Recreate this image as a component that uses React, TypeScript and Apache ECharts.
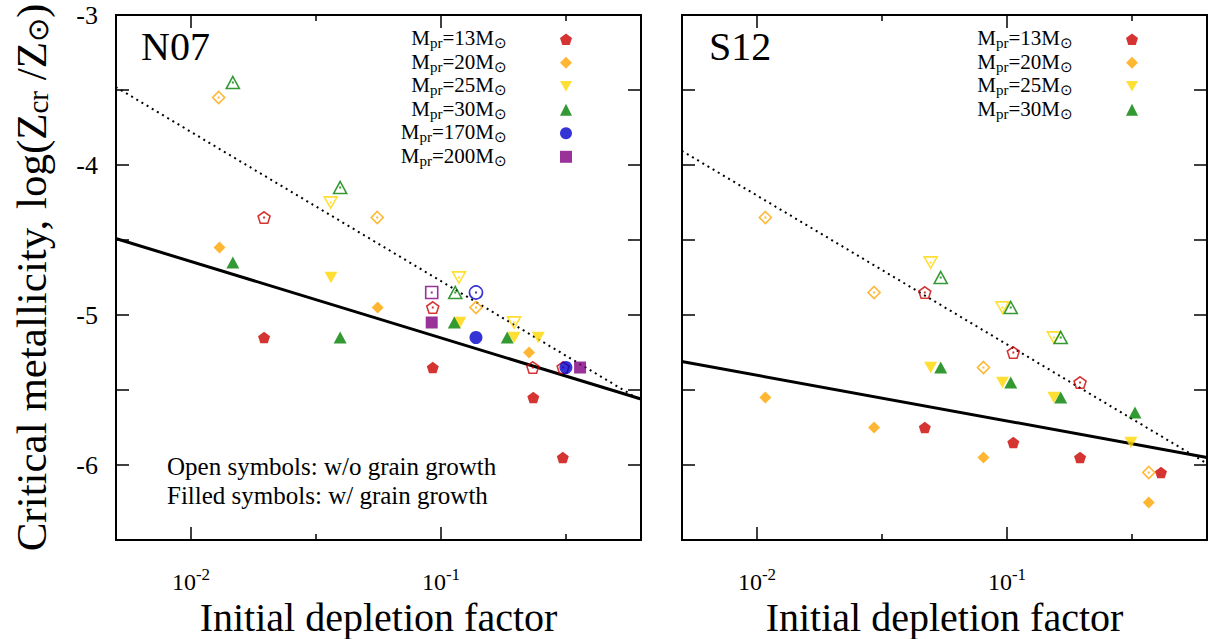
import React, { useEffect, useRef } from 'react';
import * as echarts from 'echarts';

type P = [number, number];

// ---------- data: [initial depletion factor, log(Zcr/Zsun)] ----------
const panelNames = ['N07', 'S12'];
const massesN07 = [13, 20, 25, 30, 170, 200];
const massesS12 = [13, 20, 25, 30];

// N07 — open symbols: without grain growth, filled: with grain growth
const n07_m13_open: P[] = [[0.0196, -4.35], [0.0927, -4.95], [0.233, -5.35], [0.308, -5.35]];
const n07_m13_fill: P[] = [[0.0196, -5.15], [0.0927, -5.35], [0.234, -5.55], [0.307, -5.95]];
const n07_m20_open: P[] = [[0.0129, -3.55], [0.0556, -4.35], [0.138, -4.95]];
const n07_m20_fill: P[] = [[0.013, -4.55], [0.0558, -4.95], [0.225, -5.25]];
const n07_m25_open: P[] = [[0.0362, -4.25], [0.118, -4.75], [0.196, -5.05]];
const n07_m25_fill: P[] = [[0.0363, -4.75], [0.119, -5.05], [0.196, -5.15], [0.245, -5.15]];
const n07_m30_open: P[] = [[0.0147, -3.45], [0.0395, -4.15], [0.114, -4.85]];
const n07_m30_fill: P[] = [[0.0147, -4.65], [0.0395, -5.15], [0.113, -5.05], [0.184, -5.15]];
const n07_m170_open: P[] = [[0.138, -4.85]];
const n07_m170_fill: P[] = [[0.138, -5.15], [0.316, -5.35]];
const n07_m200_open: P[] = [[0.0918, -4.85]];
const n07_m200_fill: P[] = [[0.0918, -5.05], [0.36, -5.35]];

// S12
const s12_m13_open: P[] = [[0.0469, -4.85], [0.106, -5.25], [0.196, -5.45]];
const s12_m13_fill: P[] = [[0.0469, -5.75], [0.106, -5.85], [0.196, -5.95], [0.413, -6.05]];
const s12_m20_open: P[] = [[0.0108, -4.35], [0.0294, -4.85], [0.0805, -5.35], [0.369, -6.05]];
const s12_m20_fill: P[] = [[0.0108, -5.55], [0.0294, -5.75], [0.0805, -5.95], [0.369, -6.25]];
const s12_m25_open: P[] = [[0.0495, -4.65], [0.0959, -4.95], [0.154, -5.15]];
const s12_m25_fill: P[] = [[0.0495, -5.35], [0.0959, -5.45], [0.154, -5.55], [0.313, -5.85]];
const s12_m30_open: P[] = [[0.0543, -4.75], [0.1035, -4.95], [0.164, -5.15]];
const s12_m30_fill: P[] = [[0.0543, -5.35], [0.1035, -5.45], [0.164, -5.55], [0.325, -5.65]];

// fit lines (end points at the panel edges)
const fitX = [0.005, 0.631];
const n07_fitWithGrowth = [-4.49, -5.56];
const n07_fitWithoutGrowth = [-3.48, -5.57];
const s12_fitWithGrowth = [-5.31, -5.95];
const s12_fitWithoutGrowth = [-3.905, -5.99];

// axis ticks (x in decades)
const xMajorExp = [-2, -1];
const xMinorExp = [-1.5, -0.5];
const xMinExp = -2.3;
const xMaxExp = -0.2;
const yMin = -6.5;
const yMax = -3;
const yStep = 0.5;

const annotationLines = ['Open symbols: w/o grain growth', 'Filled symbols: w/ grain growth'];

// ---------- styles ----------
const FONT = "'Liberation Serif', 'Times New Roman', serif";
const PENT = 'path://M0,-100L95.1,-30.9L58.8,80.9L-58.8,80.9L-95.1,-30.9Z';
const DTRI = 'path://M-50,-43.3L50,-43.3L0,43.3Z';
const massStyle: Record<number, { color: string; symbol: string; size: number | number[] }> = {
  13: { color: '#cc0000', symbol: PENT, size: 12 },
  20: { color: '#ffa500', symbol: 'diamond', size: 12 },
  25: { color: '#ffd700', symbol: DTRI, size: 13 },
  30: { color: '#008000', symbol: 'triangle', size: [13, 12] },
  170: { color: '#0000cc', symbol: 'circle', size: 13 },
  200: { color: '#800080', symbol: 'rect', size: 12 },
};

const dataN07: Record<number, [P[], P[]]> = {
  13: [n07_m13_open, n07_m13_fill],
  20: [n07_m20_open, n07_m20_fill],
  25: [n07_m25_open, n07_m25_fill],
  30: [n07_m30_open, n07_m30_fill],
  170: [n07_m170_open, n07_m170_fill],
  200: [n07_m200_open, n07_m200_fill],
};
const dataS12: Record<number, [P[], P[]]> = {
  13: [s12_m13_open, s12_m13_fill],
  20: [s12_m20_open, s12_m20_fill],
  25: [s12_m25_open, s12_m25_fill],
  30: [s12_m30_open, s12_m30_fill],
};

const toLog = (d: P[]) => d.map(([x, y]) => [Math.log10(x), y]);

function buildOption() {
  const gridBase = { top: 15, width: 525, height: 525, show: true, borderColor: '#000', borderWidth: 2, backgroundColor: 'transparent', outerBoundsMode: 'none', containLabel: false };
  const grids = [
    { ...gridBase, left: 116 },
    { ...gridBase, left: 682 },
  ];
  const tickLine = { color: '#000', width: 1.5 };
  const xAxes: any[] = [];
  const yAxes: any[] = [];
  grids.forEach((_, p) => {
    const base = {
      type: 'value', gridIndex: p, min: xMinExp, max: xMaxExp,
      splitLine: { show: false }, axisLine: { show: false, onZero: false },
    };
    xAxes.push({
      ...base, position: 'bottom',
      axisTick: { inside: true, length: 13, customValues: xMajorExp, lineStyle: tickLine },
      axisLabel: {
        customValues: xMajorExp, margin: 26,
        formatter: (v: number) => `{b|10}{s|${Math.round(v)}}`,
        rich: {
          b: { fontFamily: FONT, fontSize: 24, color: '#000', lineHeight: 28, verticalAlign: 'bottom' },
          s: { fontFamily: FONT, fontSize: 17, color: '#000', lineHeight: 14, verticalAlign: 'top' },
        },
      },
      name: 'Initial depletion factor', nameLocation: 'middle', nameGap: 57, nameMoveOverlap: false,
      nameTextStyle: { fontFamily: FONT, fontSize: 40, color: '#000' },
    });
    xAxes.push({ ...base, position: 'bottom', axisTick: { inside: true, length: 6, customValues: xMinorExp, lineStyle: tickLine }, axisLabel: { show: false } });
    xAxes.push({ ...base, position: 'top', axisTick: { inside: true, length: 13, customValues: xMajorExp, lineStyle: tickLine }, axisLabel: { show: false } });
    xAxes.push({ ...base, position: 'top', axisTick: { inside: true, length: 6, customValues: xMinorExp, lineStyle: tickLine }, axisLabel: { show: false } });

    const yBase = {
      type: 'value', gridIndex: p, min: yMin, max: yMax, interval: yStep,
      splitLine: { show: false }, axisLine: { show: false, onZero: false },
      axisTick: { inside: true, length: 13, lineStyle: tickLine },
    };
    yAxes.push({
      ...yBase, position: 'left',
      axisLabel: p === 0 ? {
        fontFamily: FONT, fontSize: 26, color: '#000', margin: 18,
        formatter: (v: number) => (Math.abs(v - Math.round(v)) < 1e-9 ? String(Math.round(v)) : ''),
      } : { show: false },
      ...(p === 0 ? {
        name: '{t|Critical metallicity, log(Z}{s|cr}{t| /Z}{s|⊙}{t|)}',
        nameLocation: 'middle', nameRotate: 90, nameGap: 64, nameMoveOverlap: false,
        nameTextStyle: {
          rich: {
            t: { fontFamily: FONT, fontSize: 43, color: '#000', lineHeight: 42, verticalAlign: 'top' },
            s: { fontFamily: FONT, fontSize: 29, color: '#000', lineHeight: 29, verticalAlign: 'bottom' },
          },
        },
      } : {}),
    });
    yAxes.push({ ...yBase, position: 'right', axisLabel: { show: false } });
  });

  const series: any[] = [];
  const fits: [number[], number[]][] = [
    [n07_fitWithGrowth, n07_fitWithoutGrowth],
    [s12_fitWithGrowth, s12_fitWithoutGrowth],
  ];
  fits.forEach(([solid, dotted], p) => {
    series.push({
      type: 'line', xAxisIndex: p * 4, yAxisIndex: p * 2, symbol: 'none', silent: true, z: 1,
      data: toLog(fitX.map((x, i) => [x, solid[i]] as P)),
      lineStyle: { color: '#000', width: 3 },
    });
    series.push({
      type: 'line', xAxisIndex: p * 4, yAxisIndex: p * 2, symbol: 'none', silent: true, z: 1,
      data: toLog(fitX.map((x, i) => [x, dotted[i]] as P)),
      lineStyle: { color: '#000', width: 2, type: [2, 4] },
    });
  });

  const legendNames: string[][] = [[], []];
  [dataN07, dataS12].forEach((dataset, p) => {
    const masses = p === 0 ? massesN07 : massesS12;
    masses.forEach((m) => {
      const st = massStyle[m];
      const [open] = dataset[m];
      series.push({
        type: 'scatter', name: `${panelNames[p]} open ${m}`, xAxisIndex: p * 4, yAxisIndex: p * 2, z: 2,
        symbol: st.symbol, symbolSize: st.size, symbolKeepAspect: true,
        itemStyle: { color: 'rgba(255,255,255,0)', borderColor: st.color, borderWidth: 1.6 },
        data: toLog(open),
      });
      series.push({
        type: 'scatter', name: `${panelNames[p]} dot ${m}`, xAxisIndex: p * 4, yAxisIndex: p * 2, z: 3,
        symbol: 'rect', symbolSize: 2, itemStyle: { color: st.color },
        data: toLog(open),
      });
    });
    masses.forEach((m) => {
      const st = massStyle[m];
      const [, fill] = dataset[m];
      const name = `${panelNames[p]} ${m}`;
      legendNames[p].push(name);
      series.push({
        type: 'scatter', name, xAxisIndex: p * 4, yAxisIndex: p * 2, z: 4,
        symbol: st.symbol, symbolSize: st.size, symbolKeepAspect: true,
        itemStyle: { color: st.color },
        data: toLog(fill),
      });
    });
  });

  const legendRich = {
    m: { fontFamily: FONT, fontSize: 21, color: '#000', lineHeight: 18, verticalAlign: 'top' },
    s: { fontFamily: FONT, fontSize: 15, color: '#000', lineHeight: 13, verticalAlign: 'bottom' },
    g: { width: 48, lineHeight: 23 },
  };
  // legend anchored by its right edge (= right edge of the icons)
  const legends = [572, 1138].map((iconRight, p) => ({
    data: legendNames[p],
    orient: 'vertical', align: 'right', right: 1212 - iconRight, top: 27.8,
    padding: 0, itemGap: 0.5, itemWidth: 12, itemHeight: 12, selectedMode: false,
    formatter: (name: string) => {
      const m = name.split(' ')[1];
      return `{m|M}{s|pr}{m|=${m}M}{s|⊙}{g| }`;
    },
    textStyle: { rich: legendRich },
  }));

  const graphic: any[] = [
    { type: 'text', x: 141, y: 46, style: { text: panelNames[0], fontFamily: FONT, fontSize: 40, fill: '#000', verticalAlign: 'middle' } },
    { type: 'text', x: 709, y: 46, style: { text: panelNames[1], fontFamily: FONT, fontSize: 40, fill: '#000', verticalAlign: 'middle' } },
    ...annotationLines.map((t, i) => ({
      type: 'text', x: 167, y: 466.7 + i * 28.3,
      style: { text: t, fontFamily: FONT, fontSize: 25, fill: '#000', verticalAlign: 'middle' },
    })),
  ];

  return {
    animation: false,
    backgroundColor: '#fff',
    grid: grids,
    xAxis: xAxes,
    yAxis: yAxes,
    legend: legends,
    series,
    graphic,
  };
}

export default function App() {
  const ref = useRef<HTMLDivElement>(null);
  useEffect(() => {
    if (!ref.current) return;
    const chart = echarts.init(ref.current, undefined, { renderer: 'svg' });
    chart.setOption(buildOption() as any);
    return () => chart.dispose();
  }, []);
  return <div ref={ref} style={{ position: 'fixed', left: 0, top: 0, width: 1212, height: 639 }} />;
}
